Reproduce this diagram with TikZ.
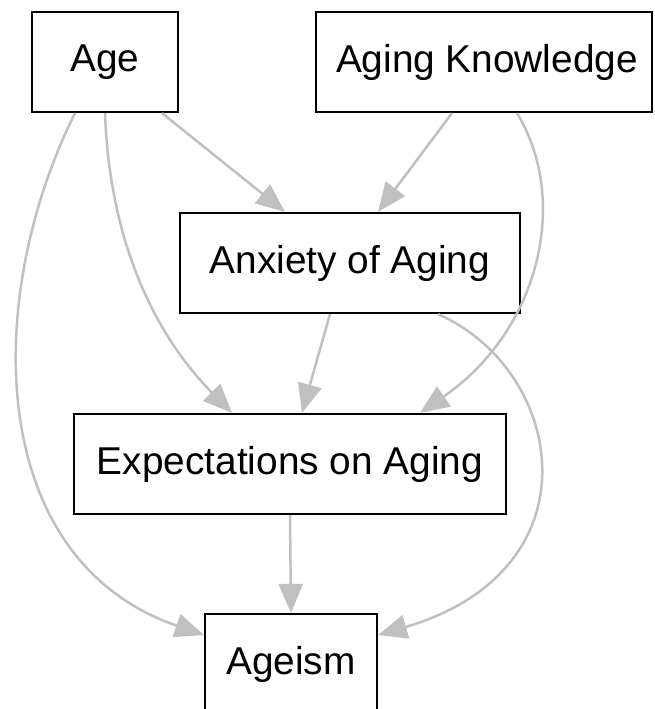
\documentclass[tikz,border=0pt]{standalone}
\usepackage{fontspec}
\setmainfont{Liberation Sans}
\usetikzlibrary{arrows.meta}
\begin{document}
\begin{tikzpicture}[x=1pt,y=-1pt,
  box/.style={draw=black,line width=2.2pt,fill=white,inner sep=0pt,minimum height=100pt,font=\fontsize{38.8}{41}\selectfont},
  link/.style={draw={rgb,255:red,192;green,192;blue,192},line width=2.5pt,-{Triangle[length=29pt,width=24pt]}}]
\useasboundingbox (0,0) rectangle (655,709);
\node[box,minimum width=146pt] (age) at (105,62) {Age};
\node[box,minimum width=336pt] (ak) at (484,62) {\hspace*{6pt}Aging Knowledge};
\node[box,minimum width=340pt] (anx) at (350,263) {Anxiety of Aging};
\node[box,minimum width=432pt] (exp) at (290,464) {Expectations on Aging};
\node[box,minimum width=172pt] (ageism) at (291,664) {Ageism};
\draw[link] ([xshift=57pt]age.south) -- ([xshift=-65pt]anx.north);
\draw[link] (age.south) .. controls (110,250) and (160,340) .. ([xshift=-58pt]exp.north);
\draw[link] ([xshift=-30pt]age.south) .. controls (-18,300) and (-14,560) .. ([yshift=29pt]ageism.west);
\draw[link] ([xshift=-32pt]ak.south) -- ([xshift=28pt]anx.north);
\draw[link] ([xshift=33pt]ak.south) .. controls (570,200) and (540,330) .. ([xshift=130pt]exp.north);
\draw[link] ([xshift=-20pt]anx.south) -- ([xshift=12pt]exp.north);
\draw[link] ([xshift=88pt]anx.south) .. controls (565,370) and (600,570) .. ([yshift=29pt]ageism.east);
\draw[link] (exp.south) -- (ageism.north);
\end{tikzpicture}
\end{document}
